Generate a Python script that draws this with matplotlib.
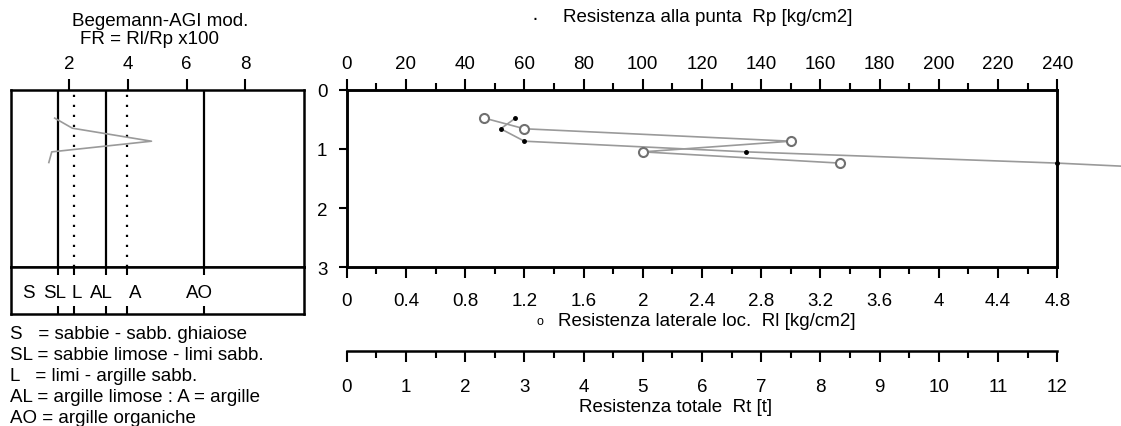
import matplotlib.pyplot as plt

plt.rcParams['font.family'] = ['Liberation Sans', 'DejaVu Sans']
plt.rcParams['font.size'] = 13.5

# letture penetrometriche (profondita' in m)
prof_rp = [0.48, 0.66, 0.87, 1.05, 1.24, 1.43]
rp = [57, 52, 60, 135, 240, 320]          # kg/cm2
prof_rl = [0.48, 0.66, 0.87, 1.05, 1.24]
rl = [0.93, 1.2, 3.0, 2.0, 3.33]          # kg/cm2
prof_fr = [0.48, 0.65, 0.87, 1.05, 1.23]
fr = [1.5, 2.1, 4.8, 1.4, 1.3]

# limiti Begemann-AGI
lim_solidi = [1.6, 3.25, 6.6]
lim_punti = [2.15, 3.95]
classi = ['S', 'SL', 'L', 'AL', 'A', 'AO']
legenda = ['S   = sabbie - sabb. ghiaiose',
           'SL = sabbie limose - limi sabb.',
           'L   = limi - argille sabb.',
           'AL = argille limose : A = argille',
           'AO = argille organiche']

W, H = 1121, 427
fig = plt.figure(figsize=(W / 100, H / 100), dpi=100)
grigio = '#9a9a9a'
lw_ax = 1.8


def fx(px):
    return px / W


def fy(py):
    return 1 - py / H


# --- grafico principale ---
ax = fig.add_axes([fx(346.7), fy(268.3), fx(1057.3 - 346.7), (268.3 - 90.7) / H])
ax_rl = ax.twiny()

ax.set_xlim(0, 240)
ax.set_ylim(3, 0)
ax.xaxis.tick_top()
ax.set_xticks(range(0, 241, 20))
ax.set_xticks(range(0, 241, 10), minor=True)
ax.tick_params(axis='x', which='major', length=8, width=1.5, pad=5)
ax.tick_params(axis='x', which='minor', length=5, width=1.5)
ax.set_yticks([0, 1, 2, 3])
ax.tick_params(axis='y', length=6, width=1.5, pad=8)
for s in ax.spines.values():
    s.set_linewidth(lw_ax)
ax.plot(rp, prof_rp, color=grigio, lw=1.2, marker='o', ms=2.5,
        mfc='black', mec='black', clip_on=False, zorder=3)

ax_rl.set_xlim(0, 4.8)
ax_rl.xaxis.tick_bottom()
ax_rl.set_xticks([i * 0.4 for i in range(13)])
ax_rl.set_xticks([i * 0.2 for i in range(25)], minor=True)
ax_rl.set_xticklabels(['0', '0.4', '0.8', '1.2', '1.6', '2', '2.4', '2.8',
                       '3.2', '3.6', '4', '4.4', '4.8'])
ax_rl.tick_params(axis='x', which='major', length=8, width=1.5, pad=10)
ax_rl.tick_params(axis='x', which='minor', length=5, width=1.5)
for s in ax_rl.spines.values():
    s.set_linewidth(lw_ax)
ax_rl.plot(rl, prof_rl, color=grigio, lw=1.2, marker='o', ms=6.5,
           mfc='white', mec='#707070', mew=1.5, zorder=3)

# resistenza totale
sec = ax_rl.secondary_xaxis((268.3 - 351.7) / (268.3 - 90.7),
                            functions=(lambda x: x * 2.5, lambda x: x / 2.5))
sec.set_xticks(range(13))
sec.set_xticks([i * 0.5 for i in range(25)], minor=True)
sec.tick_params(axis='x', which='major', length=8, width=1.5, pad=12)
sec.tick_params(axis='x', which='minor', length=5, width=1.5)
for s in sec.spines.values():
    s.set_linewidth(lw_ax)

# --- pannello FR ---
axl = fig.add_axes([fx(10.7), fy(268.3), fx(304 - 10.7), (268.3 - 90.7) / H])
axl.set_xlim(0, 10)
axl.set_ylim(3, 0)
axl.xaxis.tick_top()
axl.set_xticks([2, 4, 6, 8])
axl.tick_params(axis='x', length=8, width=1.5, pad=5)
axl.set_yticks([])
for s in axl.spines.values():
    s.set_linewidth(lw_ax)
for v in lim_solidi:
    axl.axvline(v, color='black', lw=1.6)
for v in lim_punti:
    axl.axvline(v, color='black', lw=1.6, ls=(0, (1, 3.5)))
axl.plot(fr, prof_fr, color=grigio, lw=1.2)

# riquadro classi
axb = fig.add_axes([fx(10.7), fy(315), fx(304 - 10.7), (315 - 268.3) / H])
axb.set_xlim(0, 10)
axb.set_ylim(0, 1)
axb.set_yticks([])
axb.set_xticks(sorted(lim_solidi + lim_punti))
axb.tick_params(axis='x', which='both', top=True, bottom=True, direction='in',
                labelbottom=False, length=6, width=1.5)
for s in axb.spines.values():
    s.set_linewidth(lw_ax)
pos_classi = [0.59, 1.51, 2.26, 3.08, 4.24, 6.42]
for c, x in zip(classi, pos_classi):
    axb.text(x, 0.45, c, ha='center', va='center')

# --- testi ---
fig.text(fx(160), fy(21), 'Begemann-AGI mod.', ha='center', va='center')
fig.text(fx(149), fy(40), 'FR = Rl/Rp x100', ha='center', va='center')
fig.text(fx(535), fy(19), '·', ha='center', va='center', fontsize=15)
fig.text(fx(563), fy(18), 'Resistenza alla punta  Rp [kg/cm2]', ha='left', va='center')
fig.text(fx(540), fy(322), 'o', ha='center', va='center', fontsize=9)
fig.text(fx(558), fy(322), 'Resistenza laterale loc.  Rl [kg/cm2]', ha='left', va='center')
fig.text(fx(676), fy(408), 'Resistenza totale  Rt [t]', ha='center', va='center')
for i, riga in enumerate(legenda):
    fig.text(fx(10), fy(335 + i * 21), riga, ha='left', va='center')

fig.savefig('out.png', dpi=100)
